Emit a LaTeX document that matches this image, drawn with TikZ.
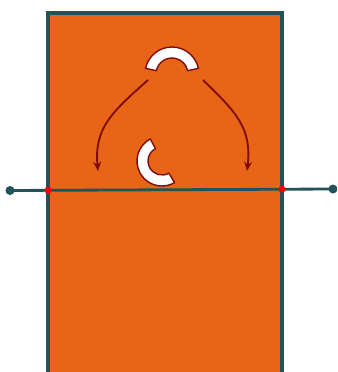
\documentclass[tikz,border=0pt]{standalone}
\usepackage{tikz}
\usetikzlibrary{arrows.meta}
\definecolor{slab}{HTML}{E86417}
\definecolor{edge}{HTML}{23535A}
\definecolor{wine}{HTML}{7E0D0D}
\definecolor{hit}{HTML}{FF0000}
\tikzset{
  wall/.style={draw=edge,line width=2.6pt,fill=slab},
  ray/.style={draw=edge,line width=2.4pt},
  tip/.style={circle,fill=#1,inner sep=0pt,minimum size=0.27cm},
  ring/.style={draw=wine,line width=1.2pt,fill=white,line join=round},
  turn/.style={-{Stealth[length=2.8mm,width=2.4mm]},draw=wine,line width=1.6pt},
}

\begin{document}
\begin{tikzpicture}[x=0.03cm,y=-0.03cm]
    \clip (0,0) rectangle (337,372);
    \fill[white] (0,0) rectangle (337,372);
    \draw[wall] (48,400) -- (48,13) -- (282,13) -- (282,400);
    % line across the slab
    \node[tip=edge] (a) at (10,190.5) {};
    \node[tip=edge] (b) at (333,189) {};
    \draw[ray] (a.center) -- (b.center);
    \node[tip=hit,minimum size=0.21cm] (l) at (48,190.3) {};
    \node[tip=hit,minimum size=0.21cm] (r) at (282,189.2) {};
    % the two arcs (y axis points down, so angles are mirrored)
    \draw[ring] (172,74) ++(-12:27) arc[start angle=-12,end angle=-168,radius=27]
      -- ++(12:11) arc[start angle=-168,end angle=-12,radius=16] -- cycle;
    \draw[ring] (162,161) ++(-118:25) arc[start angle=-118,end angle=-300,radius=25]
      -- ++(-120:11) arc[start angle=-300,end angle=-118,radius=14] -- cycle;
    % arrows
    \coordinate (s1) at (148,80);
    \coordinate (e1) at (98,171);
    \coordinate (s2) at (203,80);
    \coordinate (e2) at (247,171);
    \draw[turn] (s1) .. controls (112,112) and (94,128) .. (e1);
    \draw[turn] (s2) .. controls (236,112) and (252,128) .. (e2);
  \end{tikzpicture}
\end{document}
